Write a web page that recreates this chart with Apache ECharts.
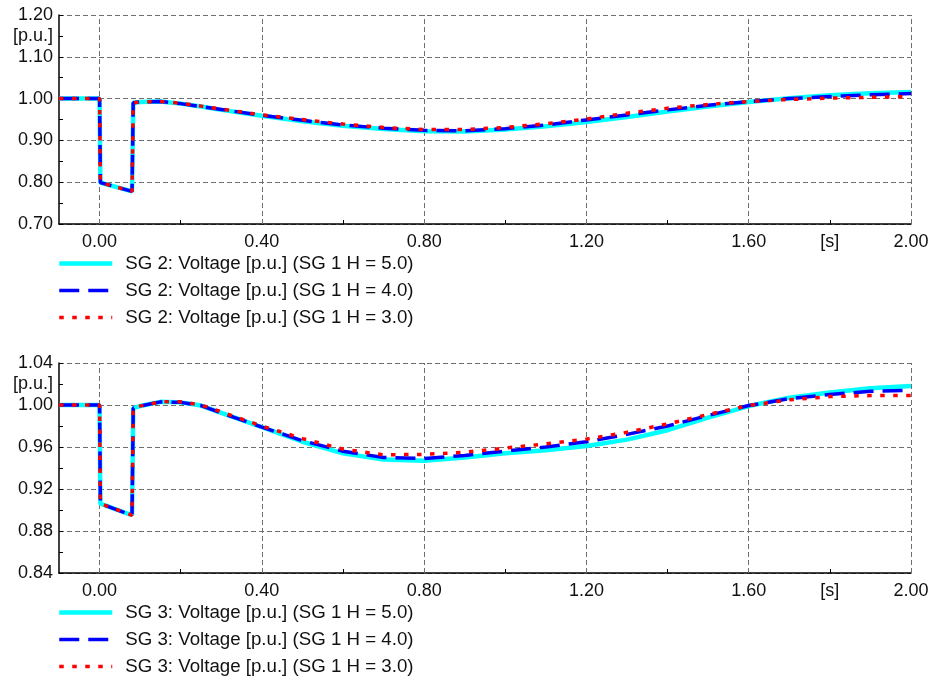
<!DOCTYPE html>
<html><head><meta charset="utf-8">
<script src="https://cdn.jsdelivr.net/npm/echarts@6/dist/echarts.min.js"></script>
<style>html,body{margin:0;padding:0;background:#fff}#c{width:935px;height:682px}</style>
</head><body><div id="c"></div><script>
// time axis [s]
const timeS = [-0.1, 0, 0.002, 0.08, 0.083, 0.1, 0.15, 0.2, 0.25, 0.3, 0.4, 0.5, 0.6, 0.7, 0.8, 0.9, 1.0, 1.1, 1.2, 1.3, 1.4, 1.5, 1.6, 1.7, 1.8, 1.9, 2.0];
// SG 2 voltage [p.u.]
const sg2H5 = [1.0,1.0,0.799,0.778,0.990,0.992,0.993,0.988,0.981,0.973,0.959,0.946,0.935,0.927,0.922,0.921,0.926,0.934,0.944,0.956,0.969,0.981,0.992,1.001,1.008,1.013,1.016];
const sg2H4 = [1.0,1.0,0.799,0.778,0.990,0.992,0.993,0.988,0.981,0.974,0.960,0.948,0.937,0.929,0.924,0.923,0.928,0.937,0.949,0.961,0.973,0.984,0.993,1.000,1.005,1.009,1.012];
const sg2H3 = [1.0,1.0,0.799,0.778,0.990,0.992,0.993,0.989,0.982,0.975,0.961,0.950,0.939,0.931,0.926,0.926,0.931,0.940,0.951,0.965,0.977,0.986,0.993,0.998,1.001,1.003,1.005];
// SG 3 voltage [p.u.]
const sg3H5 = [1.0,1.0,0.906,0.895,0.997,0.999,1.003,1.0025,0.9995,0.9925,0.979,0.965,0.954,0.948,0.947,0.950,0.954,0.957,0.961,0.967,0.976,0.988,0.999,1.007,1.012,1.016,1.018];
const sg3H4 = [1.0,1.0,0.906,0.895,0.997,0.999,1.003,1.0025,0.9995,0.9925,0.979,0.966,0.956,0.950,0.949,0.952,0.956,0.960,0.965,0.972,0.980,0.990,0.9995,1.006,1.010,1.013,1.014];
const sg3H3 = [1.0,1.0,0.906,0.895,0.997,0.999,1.003,1.003,1.000,0.9935,0.980,0.968,0.958,0.9525,0.953,0.955,0.959,0.963,0.9675,0.974,0.982,0.991,0.9995,1.005,1.008,1.009,1.009];

const namesTop = ['SG 2: Voltage [p.u.] (SG 1 H = 5.0)','SG 2: Voltage [p.u.] (SG 1 H = 4.0)','SG 2: Voltage [p.u.] (SG 1 H = 3.0)'];
const namesBot = ['SG 3: Voltage [p.u.] (SG 1 H = 5.0)','SG 3: Voltage [p.u.] (SG 1 H = 4.0)','SG 3: Voltage [p.u.] (SG 1 H = 3.0)'];

const xTickVals = [0,0.2,0.4,0.6,0.8,1.0,1.2,1.4,1.6,1.8,2.0];
const xLabelVals = [0,0.4,0.8,1.2,1.6,1.8,2.0];
const xGridVals = [0,0.4,0.8,1.2,1.6,2.0];
const yTopLabels = [0.7,0.8,0.9,1.0,1.1,1.2,1.15];
const yBotLabels = [0.84,0.88,0.92,0.96,1.00,1.04,1.02];

const FONT = 'Liberation Sans, Arial, sans-serif';
const gridLine = {color:'#6e6e6e', type:[5,3], width:1};

function pair(vals){ return timeS.map((t,i)=>[t, vals[i]]); }

const styles = [
  {color:'#00FFFF', width:4.5, type:'solid'},
  {color:'#0000FF', width:3.5, type:[20,9]},
  {color:'#FF0000', width:3.5, type:[4.5,8.5]}
];

function mkSeries(name, vals, gi, si, withGrid){
  const s = {
    name, type:'line', xAxisIndex:gi, yAxisIndex:gi, data:pair(vals),
    symbol:'none', showSymbol:false, animation:false, z: 2+si,
    lineStyle:{color:styles[si].color, width:styles[si].width, type:styles[si].type},
    itemStyle:{color:styles[si].color}
  };
  if (withGrid) {
    s.markLine = {silent:true, symbol:['none','none'], animation:false, label:{show:false},
      lineStyle:gridLine, data: xGridVals.map(v=>({xAxis:v})), z:1};
  }
  return s;
}

function xAxisCfg(gi){
  return {gridIndex:gi, type:'value', min:-0.1, max:2.0,
    axisLine:{show:true, onZero:false, lineStyle:{color:'#000', width:1.5}},
    axisTick:{show:true, inside:true, length:4, customValues:xTickVals, lineStyle:{color:'#000'}},
    axisLabel:{customValues:xLabelVals, fontSize:18, color:'#111', fontFamily:FONT, margin:9,
      formatter:v=> Math.abs(v-1.8)<1e-6 ? '[s]' : v.toFixed(2)},
    splitLine:{show:false}};
}
function yAxisCfg(gi, min, max, interval, labels, unitVal){
  return {gridIndex:gi, type:'value', min, max, interval,
    axisLine:{show:true, onZero:false, lineStyle:{color:'#000', width:1.5}},
    axisTick:{show:true, inside:true, length:4, lineStyle:{color:'#000'}},
    minorTick:{show:true, splitNumber:2, length:4, lineStyle:{color:'#000'}},
    splitLine:{show:true, lineStyle:gridLine},
    axisLabel:{customValues:labels, fontSize:18, color:'#111', fontFamily:FONT, margin:6,
      formatter:v=> Math.abs(v-unitVal)<1e-6 ? '[p.u.]' : v.toFixed(2)}};
}

function legendData(names){
  return names.map((n,i)=>({name:n, lineStyle:{width:styles[i].width, type:styles[i].type, color:styles[i].color}}));
}

const legendBase = {orient:'vertical', left:57, itemWidth:53, itemHeight:14, itemGap:8, padding:0, height:95,
  selectedMode:false, itemStyle:{opacity:0}, lineStyle:{width:4},
  textStyle:{fontSize:18.7, color:'#111', fontFamily:FONT, padding:[0,0,0,8]}};

const option = {
  animation:false,
  backgroundColor:'#fff',
  grid:[
    {left:59, top:15, width:852, height:209},
    {left:59, top:363, width:852, height:210}
  ],
  xAxis:[xAxisCfg(0), xAxisCfg(1)],
  yAxis:[yAxisCfg(0,0.7,1.2,0.1,yTopLabels,1.15), yAxisCfg(1,0.84,1.04,0.04,yBotLabels,1.02)],
  legend:[
    Object.assign({}, legendBase, {top:254, data:legendData(namesTop)}),
    Object.assign({}, legendBase, {top:603, data:legendData(namesBot)})
  ],
  series:[
    mkSeries(namesTop[0], sg2H5, 0, 0, true),
    mkSeries(namesTop[1], sg2H4, 0, 1, false),
    mkSeries(namesTop[2], sg2H3, 0, 2, false),
    mkSeries(namesBot[0], sg3H5, 1, 0, true),
    mkSeries(namesBot[1], sg3H4, 1, 1, false),
    mkSeries(namesBot[2], sg3H3, 1, 2, false)
  ]
};
const chart = echarts.init(document.getElementById('c'), null, {renderer:'canvas'});
chart.setOption(option);
</script></body></html>
